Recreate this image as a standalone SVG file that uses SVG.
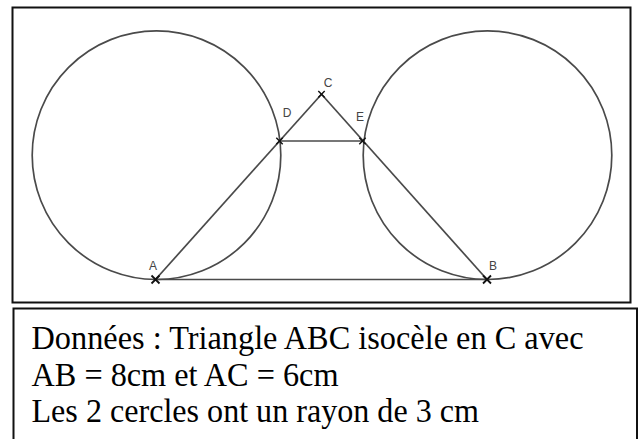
<svg xmlns="http://www.w3.org/2000/svg" width="638" height="439" viewBox="0 0 638 439">
<style>
.frame{fill:none;stroke:#111;stroke-width:2}
.geo{fill:none;stroke:#4a4a4a;stroke-width:1.7}
.pt{stroke:#111;stroke-width:1.8;fill:none}
.lbl{font-family:"Liberation Sans",Arial,sans-serif;font-size:12px;fill:#444;text-anchor:middle}
.txt{font-family:"Liberation Serif","Times New Roman",serif;font-size:34px;fill:#000}
</style>
<defs>
<path id="x" d="M-4,-4L4,4M-4,4L4,-4"/>
</defs>
<rect width="638" height="439" fill="#fff"/>
<rect class="frame" x="12.5" y="7.5" width="618" height="295"/>
<g id="circle-left"><circle class="geo" cx="156.5" cy="155.2" r="124.3"/></g>
<g id="circle-right"><circle class="geo" cx="487.5" cy="155.2" r="124.3"/></g>
<g id="connectors">
<line class="geo" x1="155.5" y1="279.5" x2="487" y2="279.5"/>
<line class="geo" x1="155.5" y1="279.5" x2="321.5" y2="94.2"/>
<line class="geo" x1="321.5" y1="94.2" x2="487" y2="279.5"/>
<line class="geo" x1="279.5" y1="141" x2="362.5" y2="141"/>
</g>
<g id="A"><use href="#x" class="pt" x="155.5" y="279.5"/><text class="lbl" x="153" y="269.5">A</text></g>
<g id="B"><use href="#x" class="pt" x="487" y="279.5"/><text class="lbl" x="493" y="270">B</text></g>
<g id="C"><use href="#x" class="pt" x="321.5" y="94.2" transform="translate(321.5 94.2) scale(0.8) translate(-321.5 -94.2)"/><text class="lbl" x="328" y="87">C</text></g>
<g id="D"><use href="#x" class="pt" x="279.5" y="141" transform="translate(279.5 141) scale(0.8) translate(-279.5 -141)"/><text class="lbl" x="287" y="117">D</text></g>
<g id="E"><use href="#x" class="pt" x="362.5" y="141" transform="translate(362.5 141) scale(0.8) translate(-362.5 -141)"/><text class="lbl" x="360" y="120.5">E</text></g>
<g id="info">
<rect class="frame" x="13.5" y="308.5" width="623.5" height="140"/>
<text class="txt" x="31.5" y="349.3" textLength="552" lengthAdjust="spacingAndGlyphs">Données : Triangle ABC isocèle en C avec</text>
<text class="txt" x="31.5" y="386" textLength="307" lengthAdjust="spacingAndGlyphs">AB = 8cm et AC = 6cm</text>
<text class="txt" x="31.5" y="421.5" textLength="447.5" lengthAdjust="spacingAndGlyphs">Les 2 cercles ont un rayon de 3 cm</text>
</g>
</svg>
